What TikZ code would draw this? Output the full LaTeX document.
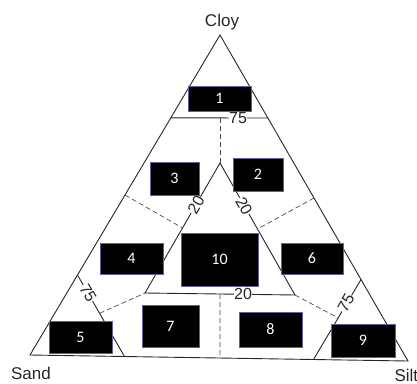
\documentclass[tikz,border=0pt]{standalone}
\usepackage{fontspec}
\setmainfont{Liberation Sans}
\newfontfamily\boxfont{Carlito}
\usetikzlibrary{calc}
\begin{document}
\begin{tikzpicture}[x=1pt,y=-1pt,
  edge/.style={line width=0.9pt, black!85},
  guide/.style={line width=0.7pt, black!70, dash pattern=on 5pt off 3pt},
  tick/.style={fill=white, inner sep=0.4pt, text=black!85,
    font=\fontsize{16}{16}\selectfont},
  corner/.style={text=black!85, font=\fontsize{17}{17}\selectfont},
  zone/.style={fill=black, draw=blue!25!gray, line width=0.6pt, text=white,
    inner sep=0pt, font=\boxfont\fontsize{16}{16}\selectfont}]
\useasboundingbox (0,0) rectangle (417,383);

% outer triangle
\coordinate (A) at (220,35);
\coordinate (S) at (30,355);
\coordinate (T) at (408,361);
\draw[edge] (A) -- (S) -- (T) -- cycle;

% 75 % clay line
\coordinate (c1) at ($(A)!0.259!(S)$);
\coordinate (c2) at ($(A)!0.2546!(T)$);
\draw[edge] (c1) -- (c2);

% inner triangle (20 % lines)
\coordinate (I)  at (220,163);
\coordinate (IL) at (145,293);
\coordinate (IR) at (295,295);
\draw[edge] (I) -- (IL) -- (IR) -- cycle;

% 75 % sand and silt lines
\coordinate (s1) at ($(A)!0.75!(S)$);
\coordinate (s2) at ($(S)!0.25!(T)$);
\coordinate (t1) at ($(A)!0.75!(T)$);
\coordinate (t2) at ($(S)!0.75!(T)$);
\draw[edge] (s1) -- (s2);
\draw[edge] (t1) -- (t2);

% dashed class boundaries
\coordinate (top75) at (220,118);
\coordinate (bot)   at ($(S)!0.5026!(T)$);
\coordinate (mid20) at (220,294);
\draw[guide] (top75) -- (I);
\draw[guide] (mid20) -- (bot);
\draw[guide] ($(A)!0.5!(S)$) -- ($(I)!0.5!(IL)$);
\draw[guide] ($(A)!0.5!(T)$) -- ($(I)!0.5!(IR)$);
\draw[guide] ($(s1)!0.47!(s2)$) -- (IL);
\draw[guide] (IR) -- ($(t1)!0.48!(t2)$);

% scale labels
\node[tick] (n75a) at (238,118) {75};
\node[tick, rotate=60]  (n20a) at (196,205) {20};
\node[tick, rotate=-60] (n20b) at (244,206) {20};
\node[tick] (n20c) at (243,294) {20};
\node[tick, rotate=-60] (n75b) at (88,293) {75};
\node[tick, rotate=60]  (n75c) at (346,303) {75};

% corner labels
\node[corner] (clay) at (222,22) {Cloy};
\node[corner] (sand) at (31,373) {Sand};
\node[corner, anchor=west] (silt) at (391,375) {Silt};

% class boxes
\node[zone, minimum width=63pt, minimum height=25pt] (z1)  at (219.5,98.5) {1};
\node[zone, minimum width=50pt, minimum height=33pt] (z2)  at (258,174.5) {2};
\node[zone, minimum width=49pt, minimum height=33pt] (z3)  at (174.5,178.5) {3};
\node[zone, minimum width=63pt, minimum height=31pt] (z4)  at (131.5,258.5) {4};
\node[zone, minimum width=77pt, minimum height=53pt] (z10) at (219.5,259.5) {10};
\node[zone, minimum width=62pt, minimum height=31pt] (z6)  at (312,258.5) {6};
\node[zone, minimum width=63pt, minimum height=32pt] (z5)  at (80.5,337) {5};
\node[zone, minimum width=57pt, minimum height=42pt] (z7)  at (170.5,326) {7};
\node[zone, minimum width=63pt, minimum height=35pt] (z8)  at (270.5,329.5) {8};
\node[zone, minimum width=64pt, minimum height=33pt] (z9)  at (363,340.5) {9};
\end{tikzpicture}
\end{document}
